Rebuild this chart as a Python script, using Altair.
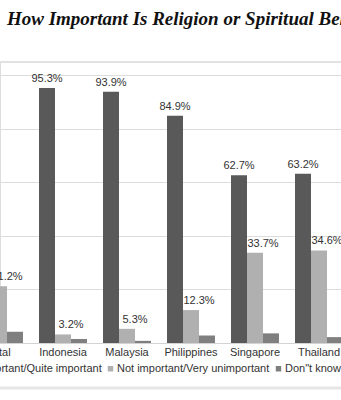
import altair as alt
import pandas as pd

countries = ["Total", "Indonesia", "Malaysia", "Philippines", "Singapore", "Thailand"]
series = ["Important/Quite important", "Not important/Very unimportant", 'Don"t know']
important = [74.6, 95.3, 93.9, 84.9, 62.7, 63.2]
not_important = [21.2, 3.2, 5.3, 12.3, 33.7, 34.6]
dont_know = [4.2, 1.5, 0.8, 2.8, 3.6, 2.2]
colors = ["#595959", "#b0b0b0", "#7f7f7f"]
title_text = "How Important Is Religion or Spiritual Belief in Your Life?"

rows = []
for i, c in enumerate(countries):
    for s, vals in zip(series, [important, not_important, dont_know]):
        rows.append({"country": c, "series": s, "value": vals[i]})
df = pd.DataFrame(rows)

FONT = "Liberation Sans"

x_enc = alt.X(
    "country:N",
    sort=countries,
    scale=alt.Scale(range=[-33, 351], paddingInner=0, paddingOuter=0),
    axis=alt.Axis(
        title=None, labelAngle=0, ticks=False, labelPadding=3,
        labelFont=FONT, labelFontSize=11, labelColor="#333333",
        domainColor="#d4d4d4", domainWidth=1, grid=False, labelOverlap=False,
    ),
)
xo_enc = alt.XOffset("series:N", sort=series,
                     scale=alt.Scale(paddingInner=0, paddingOuter=0.5))
y_enc = alt.Y(
    "value:Q",
    scale=alt.Scale(domain=[0, 105], nice=False, zero=True),
    axis=alt.Axis(
        title=None, labels=False, ticks=False, domain=False,
        values=[0, 20, 40, 60, 80, 100], gridColor="#dcdcdc", gridWidth=1,
    ),
)

base = alt.Chart(df)

bars = base.mark_bar(stroke=None).encode(
    x=x_enc,
    xOffset=xo_enc,
    y=y_enc,
    color=alt.Color(
        "series:N", sort=series,
        scale=alt.Scale(domain=series, range=colors),
        legend=alt.Legend(
            title=None, orient="none", legendX=-35, legendY=301,
            direction="horizontal", symbolType="square", symbolSize=30,
            symbolStrokeWidth=0, labelOffset=1, columnPadding=3,
            labelFont=FONT, labelFontSize=11, labelColor="#333333", padding=0,
        ),
    ),
)

def labels(sname, dx):
    return base.transform_filter(
        alt.datum.series == sname
    ).transform_calculate(
        label="format(datum.value, '.1f') + '%'"
    ).mark_text(
        font=FONT, fontSize=11, color="#333333", dy=-6, dx=dx,
        baseline="alphabetic", align="center",
    ).encode(
        x=alt.X("country:N", sort=countries),
        xOffset=alt.XOffset("series:N", sort=series),
        y=alt.Y("value:Q"),
        text="label:N",
    )

top_line = alt.Chart(pd.DataFrame({"v": [105]})).mark_rule(
    color="#e2e2e2", strokeWidth=2
).encode(y=alt.Y("v:Q"))

bottom_line = alt.Chart(pd.DataFrame({"v": [0]})).mark_rule(
    color="#e6e6e6", strokeWidth=3
).encode(x=alt.value(0), x2=alt.value(341), y=alt.value(326))

chart = alt.layer(
    top_line, bars, labels(series[0], 0), labels(series[1], 8), bottom_line
).properties(
    width=341, height=281,
    padding={"left": 0, "top": 62, "right": 0, "bottom": 53},
    autosize=alt.AutoSizeParams(type="none"),
    title=alt.Title(
        title_text, anchor="start", dx=7, fontSize=19,
        font="Liberation Serif", fontStyle="italic", fontWeight="bold",
        color="#111111", baseline="alphabetic", offset=17, frame="group",
    ),
).configure_view(stroke=None).configure(background="white")

chart.save("out.html", embed_options={"renderer": "svg", "actions": False})
